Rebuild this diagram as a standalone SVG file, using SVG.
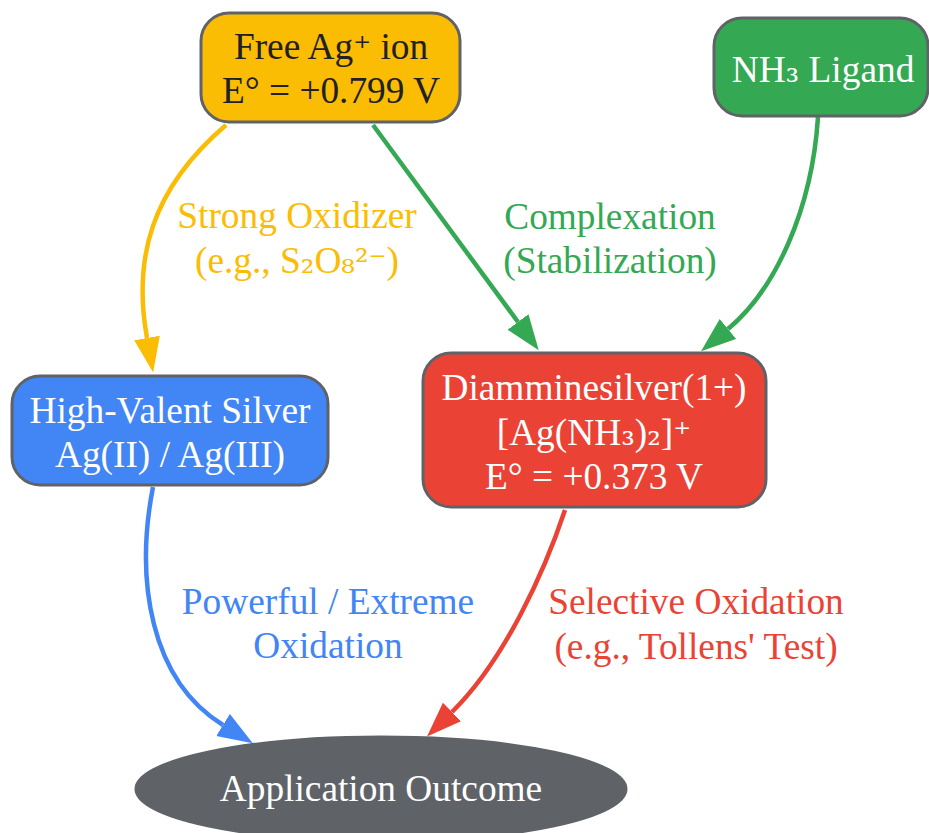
<svg xmlns="http://www.w3.org/2000/svg" width="929" height="833" viewBox="0 0 929 833">
<defs>
<style>
.node{stroke:#5F6368;stroke-width:3}
text{font-family:"Liberation Serif","Times New Roman",serif;font-size:37.33px;text-anchor:middle}
.s{font-family:"DejaVu Serif",serif;font-size:34px}
.w{fill:#FFFFFF}
.edge{fill:none;stroke-width:4.5}
</style>
<marker id="aY" markerUnits="userSpaceOnUse" markerWidth="36" markerHeight="27" refX="0" refY="13" orient="auto"><path d="M0,0 L35,13 L0,26 z" fill="#FBBC04"/></marker>
<marker id="aG" markerUnits="userSpaceOnUse" markerWidth="36" markerHeight="27" refX="0" refY="13" orient="auto"><path d="M0,0 L35,13 L0,26 z" fill="#34A853"/></marker>
<marker id="aB" markerUnits="userSpaceOnUse" markerWidth="36" markerHeight="27" refX="0" refY="13" orient="auto"><path d="M0,0 L35,13 L0,26 z" fill="#4285F4"/></marker>
<marker id="aR" markerUnits="userSpaceOnUse" markerWidth="36" markerHeight="27" refX="0" refY="13" orient="auto"><path d="M0,0 L35,13 L0,26 z" fill="#EA4335"/></marker>
</defs>
<rect width="929" height="833" fill="#FFFFFF"/>
<g id="edges">
<path class="edge" stroke="#FBBC04" marker-end="url(#aY)" d="M226,125 C150,190 133,260 147,338"/>
<text x="297" y="228" fill="#FBBC04">Strong Oxidizer</text>
<text x="297" y="273" fill="#FBBC04">(e.g., S<tspan class="s">₂</tspan>O<tspan class="s">₈²⁻</tspan>)</text>
<path class="edge" stroke="#34A853" marker-end="url(#aG)" d="M373,125 L518,322"/>
<text x="610" y="229" fill="#34A853">Complexation</text>
<text x="610" y="273" fill="#34A853">(Stabilization)</text>
<path class="edge" stroke="#34A853" marker-end="url(#aG)" d="M818,117 C812,210 775,290 728,329"/>
<path class="edge" stroke="#4285F4" marker-end="url(#aB)" d="M153,487 C135,580 150,680 223,725"/>
<text x="328" y="614" fill="#4285F4">Powerful / Extreme</text>
<text x="328" y="658" fill="#4285F4">Oxidation</text>
<path class="edge" stroke="#EA4335" marker-end="url(#aR)" d="M565,510 C545,570 505,660 452,712"/>
<text x="696" y="614" fill="#EA4335">Selective Oxidation</text>
<text x="696" y="659" fill="#EA4335">(e.g., Tollens' Test)</text>
</g>
<g id="free_ag">
<rect class="node" x="201" y="13" width="259" height="109" rx="28" fill="#FBBC04"/>
<text x="331" y="59" fill="#202124">Free Ag<tspan class="s">⁺</tspan> ion</text>
<text x="331" y="103" fill="#202124">E° = +0.799 V</text>
</g>
<g id="nh3">
<rect class="node" x="714" y="18" width="214" height="98" rx="28" fill="#34A853"/>
<text class="w" x="823" y="82">NH<tspan class="s">₃</tspan> Ligand</text>
</g>
<g id="high_valent">
<rect class="node" x="12" y="376" width="316" height="109" rx="28" fill="#4285F4"/>
<text class="w" x="170" y="423">High-Valent Silver</text>
<text class="w" x="170" y="467">Ag(II) / Ag(III)</text>
</g>
<g id="diammine">
<rect class="node" x="423" y="353" width="343" height="154" rx="28" fill="#EA4335"/>
<text class="w" x="594" y="400">Diamminesilver(1+)</text>
<text class="w" x="594" y="445">[Ag(NH<tspan class="s">₃</tspan>)<tspan class="s">₂</tspan>]<tspan class="s">⁺</tspan></text>
<text class="w" x="594" y="489">E° = +0.373 V</text>
</g>
<g id="outcome">
<ellipse class="node" cx="381" cy="789" rx="245" ry="52" fill="#5F6368"/>
<text class="w" x="381" y="801">Application Outcome</text>
</g>
</svg>
